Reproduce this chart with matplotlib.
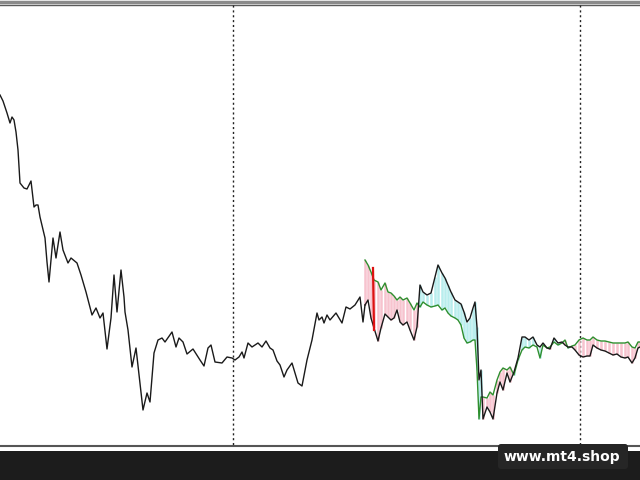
import numpy as np
import matplotlib
matplotlib.use("Agg")
import matplotlib.pyplot as plt
from matplotlib.patches import FancyBboxPatch

# Price history (chart pixel units: x = bar position, y = level, inverted axis)
hist_x = [0, 3, 7, 10, 12, 14, 16, 18, 20, 24, 27, 31, 34, 36, 38, 40, 45, 47, 49, 51,
          53, 56, 60, 63, 68, 71, 77, 81, 86, 92, 96, 100, 103, 107, 111, 114, 117, 121, 124, 125,
          128, 132, 136, 143, 147, 150, 154, 158, 162, 165, 172, 176, 179, 183, 187, 193, 200, 204, 208, 211,
          215, 222, 227, 232, 235, 239, 242, 244, 248, 252, 258, 262, 266, 270, 273, 277, 280, 284, 287, 292,
          298, 302, 307, 312, 317, 319, 322, 324, 327, 330, 336, 342, 346, 350, 355, 360, 363]
hist_y = [95, 101, 113, 123, 117, 120, 132, 150, 183, 188, 189, 181, 207, 205, 205, 217, 238, 262, 282, 260,
          238, 258, 232, 250, 263, 258, 263, 275, 292, 315, 308, 318, 313, 349, 318, 275, 312, 270, 297, 312,
          330, 367, 348, 410, 393, 402, 353, 340, 338, 342, 332, 347, 338, 342, 354, 349, 360, 366, 348, 345,
          362, 363, 357, 358, 360, 357, 352, 358, 343, 347, 343, 347, 341, 348, 350, 361, 365, 377, 370, 363,
          383, 386, 360, 340, 313, 320, 317, 323, 315, 320, 313, 323, 307, 309, 305, 297, 322]

# Section where the indicator (green) is shown together with price (black)
ind_x = [365, 368, 371, 374, 378, 381, 385, 388, 391, 394, 397, 400, 403, 407, 410, 414, 417, 420, 423, 427,
         431, 435, 438, 442, 445, 448, 451, 455, 458, 461, 464, 467, 470, 473, 475, 477, 479, 481, 483, 487,
         490, 493, 497, 500, 503, 507, 510, 514, 518, 522, 525, 529, 533, 537, 540, 543, 547, 550, 554, 558,
         562, 565, 568, 572, 575, 579, 583, 587, 590, 593, 597, 601, 605, 609, 613, 617, 621, 625, 628, 632,
         635, 638, 640]
price_y = [305, 300, 318, 328, 341, 328, 314, 317, 320, 318, 310, 322, 325, 322, 330, 340, 327, 285, 292, 295,
           293, 277, 265, 273, 278, 285, 292, 300, 302, 304, 312, 322, 318, 308, 302, 327, 380, 370, 419, 407,
           412, 419, 393, 382, 390, 373, 382, 372, 358, 337, 337, 340, 337, 345, 347, 343, 348, 349, 338, 343,
           342, 345, 347, 347, 350, 355, 357, 356, 356, 345, 348, 350, 351, 353, 355, 354, 357, 358, 357, 363,
           358, 348, 347]
signal_y = [260, 265, 272, 280, 282, 290, 283, 292, 293, 296, 300, 297, 300, 298, 303, 310, 303, 307, 302, 305,
            307, 306, 305, 310, 308, 313, 316, 318, 320, 325, 338, 343, 342, 340, 340, 370, 419, 397, 397, 398,
            392, 395, 380, 372, 368, 370, 367, 375, 360, 350, 347, 348, 345, 347, 358, 345, 348, 347, 342, 345,
            343, 340, 348, 346, 345, 340, 338, 340, 340, 337, 340, 341, 341, 342, 343, 343, 343, 343, 342, 347,
            348, 342, 342]

# Highlighted bar (red)
mark_x = [373, 374]
mark_y = [268, 330]

session_x = [233, 580]

fig = plt.figure(figsize=(6.4, 4.8), dpi=100)
ax = fig.add_axes([0, 0, 1, 1])
ax.set_xlim(0, 640)
ax.set_ylim(480, 0)
ax.axis("off")

# frame
ax.axhline(1.5, color="#8a8a8a", lw=2.5)
ax.axhline(4.5, color="#5a5a5a", lw=1)
ax.axhline(445.5, color="#555555", lw=1.5)
ax.axhspan(451, 480, color="#1c1c1c", lw=0)

for sx in session_x:
    ax.plot([sx, sx], [5, 445], color="#222222", lw=1, linestyle=(0, (1.5, 2)))

ix = np.array(ind_x)
py = np.array(price_y)
sy = np.array(signal_y)
cols = np.where(sy < py, "#f7c3ce", "#b8eded")
ax.vlines(ix, np.minimum(py, sy), np.maximum(py, sy), colors=cols, lw=1.8, zorder=2)

ax.plot(hist_x + [ind_x[0]], hist_y + [price_y[0]], color="#1a1a1a", lw=1, zorder=4)
ax.plot(ind_x, signal_y, color="#2f8f2f", lw=1, zorder=3)
ax.plot(ind_x, price_y, color="#1a1a1a", lw=1, zorder=4)
ax.plot(mark_x, mark_y, color="#dd1111", lw=1.6, zorder=5)

box = FancyBboxPatch((498, 444), 130, 25, boxstyle="round,pad=0,rounding_size=3",
                     facecolor="#262626", edgecolor="none", zorder=6)
ax.add_patch(box)
ax.text(562, 457, "www.mt4.shop", color="white", fontsize=10, fontweight="bold",
        ha="center", va="center", zorder=7)

fig.savefig("out.png", dpi=100)
